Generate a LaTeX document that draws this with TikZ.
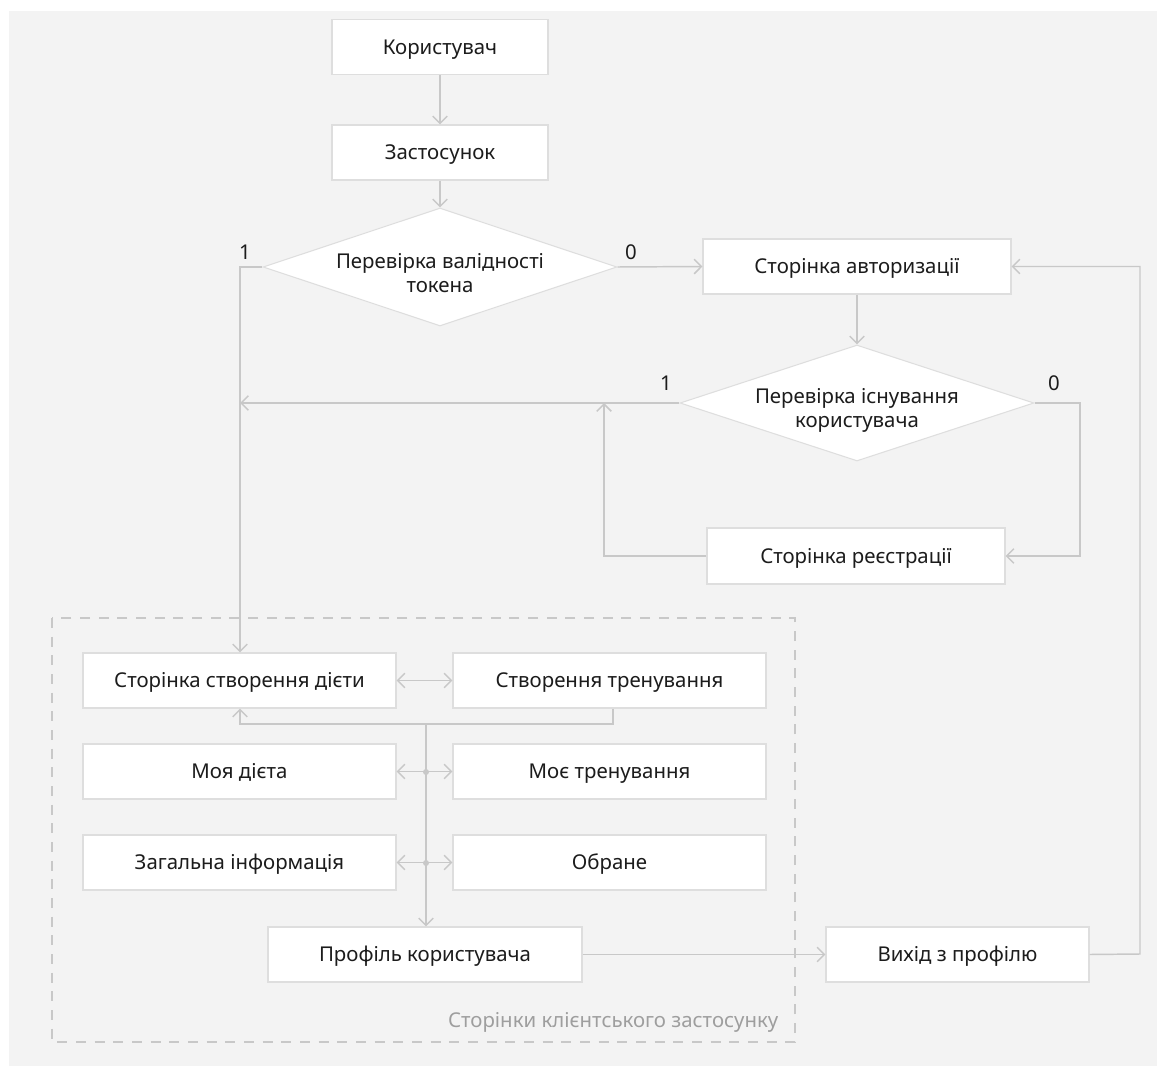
\documentclass[tikz,border=0pt]{standalone}
\usepackage{fontspec}
\setmainfont{Noto Sans}
\usetikzlibrary{arrows.meta,shapes.geometric,calc}
\definecolor{bgfill}{HTML}{F3F3F3}
\definecolor{wire}{HTML}{C8C8C8}
\definecolor{boxline}{HTML}{DEDEDE}
\definecolor{ink}{HTML}{1C1C1C}
\definecolor{note}{HTML}{9E9E9E}
\tikzset{
  wirestyle/.style={draw=wire, line width=1.1pt},
  tip/.style={-{Straight Barb[length=5.5pt,width=11pt,line width=1.1pt]}},
  twotips/.style={{Straight Barb[length=5.5pt,width=11pt,line width=1.1pt]}-{Straight Barb[length=5.5pt,width=11pt,line width=1.1pt]}},
  stepbox/.style={draw=boxline, fill=white, line width=0.8pt, inner sep=0pt,
    minimum width={#1*0.75pt}, minimum height={55*0.75pt}},
  choice/.style={diamond, draw=boxline, fill=white, line width=0.8pt, inner sep=0pt,
    minimum width={354*0.75pt}, minimum height={#1*0.75pt}},
  % text is centred on its capital letters
  lbl/.style={text=ink, font=\fontsize{15.3}{18}\selectfont, align=center,
    text height=10.9pt, text depth=0pt},
  flag/.style={text=ink, font=\fontsize{15.3}{18}\selectfont},
  dot/.style={circle, fill=wire, inner sep=0pt, minimum size=4.5pt},
}
\begin{document}
\begin{tikzpicture}[x=0.75pt, y=-0.75pt]
  % canvas and background panel
  \useasboundingbox (0,0) rectangle (1157,1066);
  \fill[bgfill] (9,11) rectangle (1157,1066);

  % client pages group
  \draw[wire, line width=2.2pt, dash pattern=on 7.5pt off 6.5pt] (52,618) rectangle (795,1042);
  \node[anchor=base east, text=note, font=\fontsize{15.3}{18}\selectfont] (grp) at (783,1027) {Сторінки клієнтського застосунку};

  % top of the flow
  \node[stepbox=216, lbl] (user) at (440,47) {Користувач};
  \node[stepbox=216, lbl] (app) at (440,152.5) {Застосунок};
  \node[choice=118] (d1) at (440,267) {};
  \node[lbl] (d1t) at (440,285) {Перевірка валідності\\токена};
  \node[stepbox=308, lbl] (auth) at (857,266.5) {Сторінка авторизації};
  \node[choice=116] (d2) at (857,403) {};
  \node[lbl] (d2t) at (857,420) {Перевірка існування\\користувача};
  \node[stepbox=298, minimum height={56*0.75pt}, lbl] (reg) at (856,556) {Сторінка реєстрації};

  % client pages
  \node[stepbox=313, lbl] (diet) at (239.5,680.5) {Сторінка створення дієти};
  \node[stepbox=313, lbl] (train) at (609.5,680.5) {Створення тренування};
  \node[stepbox=313, lbl] (mydiet) at (239.5,771.5) {Моя дієта};
  \node[stepbox=313, lbl] (mytrain) at (609.5,771.5) {Моє тренування};
  \node[stepbox=313, lbl] (info) at (239.5,862.5) {Загальна інформація};
  \node[stepbox=313, lbl] (fav) at (609.5,862.5) {Обране};
  \node[stepbox=314, lbl] (profile) at (425,954.5) {Профіль користувача};
  \node[stepbox=263, lbl] (exit) at (957.5,954.5) {Вихід з профілю};

  % branch labels
  \node[flag] (d1yes) at (245,252) {1};
  \node[flag] (d1no) at (631,252) {0};
  \node[flag] (d2yes) at (666,383) {1};
  \node[flag] (d2no) at (1054,383) {0};

  % routing points
  \coordinate (left) at (240,267);
  \coordinate (rright) at (1080,403);
  \coordinate (rback) at (604,556);
  \coordinate (bus) at (426,724);
  \coordinate (busR) at (613,724);
  \coordinate (busL) at (240,724);
  \coordinate (outR) at (1140,954);
  \node[dot] (j1) at (426,772) {};
  \node[dot] (j2) at (426,863) {};

  % main flow
  \draw[wirestyle, tip] (user) -- (app);
  \draw[wirestyle, tip] (app) -- (d1.north);
  \draw[wirestyle, tip] (d1.east) -- (auth.west);
  \draw[wirestyle, tip] (d1.west) -- (left) -- (left |- diet.north);
  \draw[wirestyle, tip] (auth) -- (d2.north);
  \draw[wirestyle, tip] (d2.west) -- (left |- d2.west);
  \draw[wirestyle, tip] (d2.east) -- (rright) |- (reg.east);
  \draw[wirestyle, tip] (reg.west) -- (rback) -- (rback |- d2.west);

  % links between client pages
  \draw[wirestyle, twotips] (diet) -- (train);
  \draw[wirestyle, tip] (busR |- train.south) -- (busR) -- (busL) -- (busL |- diet.south);
  \draw[wirestyle, tip] (bus) -- (bus |- profile.north);
  \draw[wirestyle, twotips] (mydiet) -- (mytrain);
  \draw[wirestyle, twotips] (info) -- (fav);

  % leaving the profile
  \draw[wirestyle, tip] (profile) -- (exit);
  \draw[wirestyle, tip] (exit.east) -- (outR) |- (auth.east);
\end{tikzpicture}
\end{document}
